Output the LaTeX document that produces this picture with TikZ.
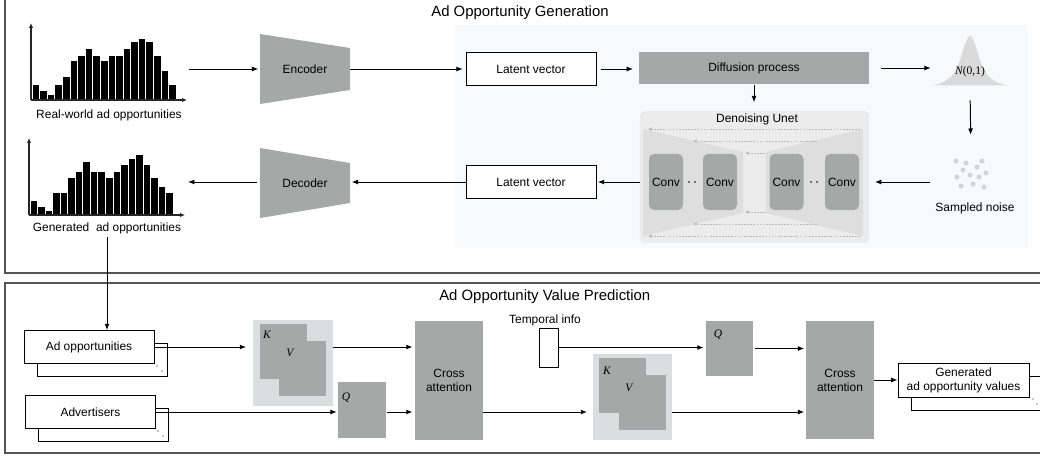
\documentclass[tikz,border=0pt]{standalone}
\usepackage{fontspec}
\setmainfont{Liberation Sans}
\newfontfamily\timesfont{Liberation Serif}
\usepackage{tikz}
\usetikzlibrary{positioning, arrows.meta, calc}
\definecolor{boxgray}{RGB}{166,168,167}
\definecolor{kvgray}{RGB}{220,221,224}
\definecolor{panelbg}{RGB}{248,249,252}
\definecolor{unetbg}{RGB}{236,236,236}
\definecolor{unetside}{RGB}{222,222,222}
\definecolor{bellgray}{RGB}{218,218,218}
\definecolor{noisegray}{RGB}{212,212,212}
\definecolor{framegray}{RGB}{85,85,85}
\definecolor{dashgray}{RGB}{185,185,185}
\newcommand{\lblsize}{\fontsize{8.5}{10}\selectfont}
\newcommand{\ttlsize}{\fontsize{10.6}{12.7}\selectfont}
\newcommand{\mvar}[1]{{\timesfont\fontsize{8.2}{9.8}\selectfont\itshape #1}}

\begin{document}
\begin{tikzpicture}[x=0.025cm, y=-0.025cm,
  frame/.style={draw=framegray, line width=1pt},
  ttl/.style={font=\ttlsize, inner sep=0pt},
  lbl/.style={font=\lblsize, inner sep=1pt, align=center},
  wbox/.style={rectangle, draw=black, fill=white, line width=0.6pt,
               minimum width=3.25cm, minimum height=0.825cm,
               font=\lblsize, align=center, inner sep=0pt},
  gbox/.style={rectangle, fill=boxgray, inner sep=0pt,
               font=\lblsize, align=center},
  kvbg/.style={rectangle, fill=kvgray, minimum width=1.975cm, minimum height=2.15cm},
  mat/.style={gbox, minimum width=1.175cm, minimum height=1.375cm},
  cross/.style={gbox, minimum width=1.7cm, minimum height=2.95cm},
  convbox/.style={rectangle, rounded corners=3.5pt, fill=boxgray,
                  minimum width=0.85cm, minimum height=1.4cm,
                  font=\lblsize, inner sep=0pt},
  bar/.style={fill=black, draw=white, line width=0.4pt},
  axis/.style={-{Latex[length=3.5pt,width=3pt]}, line width=0.9pt, draw=black!85},
  arr/.style={-{Latex[length=4.5pt,width=3.5pt]}, line width=0.7pt},
  skiparr/.style={-{Latex[length=2.5pt,width=2.5pt]}, draw=dashgray,
                  line width=0.5pt, dash pattern=on 1.2pt off 1pt}
]
\useasboundingbox (0,0) rectangle (1040,455);

% Panels
\draw[frame] (5,-10) rectangle (1050,273);
\draw[frame] (5,283) rectangle (1050,453);
\fill[panelbg] (455,25) rectangle (1028,248);
\node[ttl] (gtitle) at (520,13) {Ad Opportunity Generation};
\node[ttl, anchor=west] (vtitle) at (439,297) {Ad Opportunity Value Prediction};

% Histograms
\foreach \h [count=\i from 0] in {16,10,6,16,24,40,45,52,45,40,45,45,52,59,62,59,45,30,16}
  \filldraw[bar] (32+\i*7.58,100) rectangle ++(7.58,-\h);
\draw[axis] (31,100) -- (31,23);
\draw[axis] (31,100) -- (187,100);
\node[lbl] (h1lbl) at (109,115) {Real-world ad opportunities};

\foreach \h [count=\i from 0] in {15,9,5,23,23,38,44,54,44,44,38,44,51,57,61,51,38,29,23}
  \filldraw[bar] (30+\i*7.53,215) rectangle ++(7.53,-\h);
\draw[axis] (29,215) -- (29,138);
\draw[axis] (29,215) -- (185,215);
\node[lbl] (h2lbl) at (107,228) {Generated\ \ ad opportunities};

% Encoder / decoder
\fill[boxgray] (260,34) -- (350,48) -- (350,90) -- (260,104) -- cycle;
\node[lbl, minimum width=2.25cm, minimum height=1.75cm] (enc) at (305,69) {Encoder};
\fill[boxgray] (260,148) -- (350,163) -- (350,203) -- (260,218) -- cycle;
\node[lbl, minimum width=2.25cm, minimum height=1.75cm] (dec) at (305,183) {Decoder};

% Latent space
\node[wbox] (lv1) at (531,69) {Latent vector};
\node[gbox, minimum width=5.75cm, minimum height=0.775cm] (diff) at (754,68) {Diffusion process};
\node[wbox] (lv2) at (531,182) {Latent vector};

% N(0,1) and noise
\fill[bellgray] plot[domain=-39:39, samples=80]
  ({970+\x},{86-50*(0.6*exp(-(\x/9.5)^2)+0.4*exp(-(\x/21)^2))}) -- cycle;
\node[minimum width=1.95cm, minimum height=1.25cm] (bell) at (970,61) {};
\node[inner sep=0pt] (nrm) at (970,72) {\mvar{N}{\timesfont\fontsize{8.2}{9.8}\selectfont(0,1)}};
\node[minimum width=0.9cm, minimum height=0.75cm] (noise) at (971,174) {};
\foreach \p in {(956,161),(966,163),(982,161),(963,170),(977,167),(957,177),
                (970,175),(979,177),(986,173),(961,186),(973,184),(984,187)}
  \fill[noisegray] \p circle (2.5);
\node[lbl] (nlbl) at (975,208) {Sampled noise};

% Denoising Unet
\node[rectangle, rounded corners=3pt, fill=unetbg,
      minimum width=5.725cm, minimum height=3.3cm] (unet) at (754.5,177) {};
\fill[unetside] (643,129) -- (743,152) -- (743,213) -- (643,236) -- cycle;
\fill[unetside] (766,152) -- (863,129) -- (863,236) -- (766,213) -- cycle;
\node[lbl] (ulbl) at (757,119) {Denoising Unet};
\foreach \a/\b/\y in {860/648/129, 817/693/141, 765/745/153,
                      765/745/212, 817/693/224, 860/648/236}
  \draw[skiparr] (\a,\y) -- (\b,\y);
\node[convbox] (c1) at (666,182) {Conv};
\node[convbox] (c2) at (720,182) {Conv};
\node[convbox] (c3) at (786.5,182) {Conv};
\node[convbox] (c4) at (842,182) {Conv};
\foreach \x in {689,695,811,817}
  \fill (\x,182) circle (0.7pt);

% Top arrows
\coordinate (h1out) at (189,69);
\coordinate (h2in) at (188,182);
\draw[arr, shorten >=1pt] (h1out) -- (h1out -| enc.west);
\draw[arr, shorten >=2pt] (enc.east |- lv1.west) -- (lv1.west);
\draw[arr, shorten <=3pt, shorten >=4pt] (lv1.east) -- (diff.west |- lv1.east);
\draw[arr, shorten <=8pt] (diff.east) -- (diff.east -| bell.west);
\draw[arr, shorten <=1pt, shorten >=6pt] (diff.south) -- (diff.south |- unet.north);
\draw[arr, shorten <=10pt, shorten >=17pt] (bell.south) -- (noise.north);
\draw[arr, shorten <=16pt, shorten >=4pt] (noise.west |- lv2.east) -- (unet.east |- lv2.east);
\draw[arr, shorten >=1pt] (unet.west |- lv2.east) -- (lv2.east);
\draw[arr, shorten >=1pt] (lv2.west) -- (dec.east |- lv2.west);
\draw[arr, shorten <=2pt] (dec.west |- h2in) -- (h2in);
\coordinate (gdown) at (107,237);

% Inputs
\node[wbox] (adopb) at (102,360) {};
\node[wbox] (adop) at (89,347) {Ad opportunities};
\fill (157,366) circle (0.5pt) (162,371) circle (0.5pt);
\node[wbox] (advb) at (103,425) {};
\node[wbox] (adv) at (90.5,412) {Advertisers};
\fill (158,431) circle (0.5pt) (163,436) circle (0.5pt);
\draw[arr] (gdown) -- (gdown |- adop.north);

% First cross attention
\node[kvbg] (kv1) at (293,363) {};
\node[mat] (k1) at (283.5,351.5) {};
\node[mat] (v1) at (302.5,368.5) {};
\node[inner sep=0pt] at (267,335) {\mvar{K}};
\node[inner sep=0pt] at (290,353) {\mvar{V}};
\node[mat] (q1) at (362,410) {};
\node[inner sep=0pt] at (346,398) {\mvar{Q}};
\node[cross] (ca1) at (449,380.5) {Cross\\attention};

% Second cross attention
\node[lbl] (tlbl) at (545,320) {Temporal info};
\node[rectangle, draw=black, fill=white, line width=0.6pt,
      minimum width=0.475cm, minimum height=0.975cm] (temp) at (548.5,347.5) {};
\node[mat] (q2) at (729.5,348.5) {};
\node[inner sep=0pt] at (718,335) {\mvar{Q}};
\node[kvbg] (kv2) at (632.5,397) {};
\node[mat] (k2) at (622,385.5) {};
\node[mat] (v2) at (642,402.5) {};
\node[inner sep=0pt] at (607,371) {\mvar{K}};
\node[inner sep=0pt] at (629,388) {\mvar{V}};
\node[cross] (ca2) at (840,380) {Cross\\attention};

% Output
\node[wbox, minimum width=3.275cm, minimum height=0.85cm] (genb) at (976.5,393) {};
\node[wbox, minimum width=3.275cm, minimum height=0.85cm] (gen) at (963.5,380)
    {Generated\\ad opportunity values};
\fill (1033,399) circle (0.5pt) (1037,404) circle (0.5pt);

% Bottom arrows
\draw[arr, shorten >=5pt] (adop.east) -- (adop.east -| kv1.west);
\draw[arr, shorten >=1.5pt] (kv1.east |- adop.east) -- (ca1.west |- adop.east);
\draw[arr, shorten >=1pt] (adv.east) -- (adv.east -| q1.west);
\draw[arr, shorten <=1pt, shorten >=1.5pt] (q1.east |- adv.east) -- (ca1.west |- adv.east);
\draw[arr, shorten >=4pt] (ca1.east |- adv.east) -- (kv2.west |- adv.east);
\draw[arr, shorten >=1pt] (kv2.east |- adv.east) -- (ca2.west |- adv.east);
\draw[arr, shorten >=1.5pt] (temp.east) -- (temp.east -| q2.west);
\draw[arr, shorten <=1pt, shorten >=1pt] (q2.east) -- (ca2.west |- q2.east);
\draw[arr] (ca2.east) -- (gen.west);

\end{tikzpicture}
\end{document}
